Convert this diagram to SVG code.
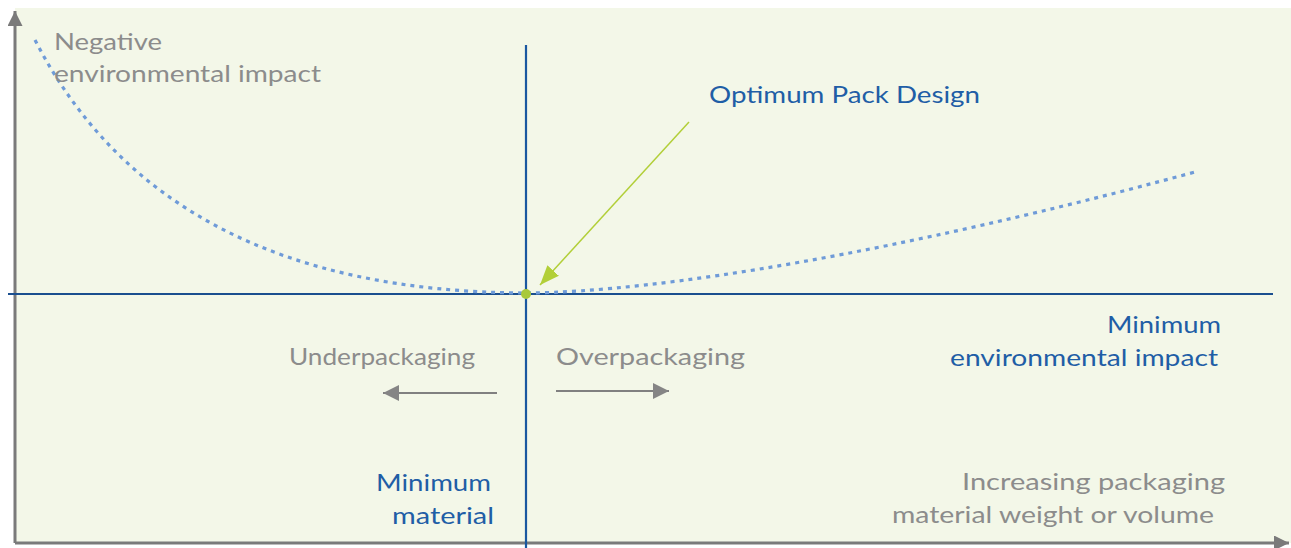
<svg xmlns="http://www.w3.org/2000/svg" width="1291" height="548" viewBox="0 0 1291 548">
<defs>
<style>
.t{font-family:"Lato","Liberation Sans",sans-serif;font-size:23px;font-weight:400}
.g{fill:#8c8c8c}
.b{fill:#1f5ea6}
.ax{stroke:#7a7a7a;stroke-width:3;fill:none}
.dir{stroke:#808080;stroke-width:2;fill:none}
</style>
<marker id="ah" viewBox="0 0 10 10" refX="10" refY="5" markerWidth="5" markerHeight="5" markerUnits="strokeWidth" orient="auto">
<path d="M0,0 L10,5 L0,10 z" fill="#7a7a7a"/>
</marker>
<marker id="ah2" viewBox="0 0 10 10" refX="10" refY="5" markerWidth="10" markerHeight="8" markerUnits="strokeWidth" orient="auto">
<path d="M0,0 L10,5 L0,10 z" fill="#858585"/>
</marker>
<marker id="ahg" viewBox="0 0 10 10" refX="10" refY="5" markerWidth="13" markerHeight="13" markerUnits="strokeWidth" orient="auto">
<path d="M0,1 L10,5 L0,9 z" fill="#b2cf38"/>
</marker>
</defs>
<rect id="background" x="15" y="8" width="1276" height="535" fill="#f3f7e8"/>
<g id="connectors">
<line class="ax" x1="15" y1="543" x2="15" y2="11" marker-end="url(#ah)"/>
<line class="ax" x1="15" y1="543" x2="1289" y2="543" marker-end="url(#ah)"/>
<line x1="8" y1="294" x2="1273" y2="294" stroke="#1a4f8f" stroke-width="2.2"/>
<line x1="526" y1="45" x2="526" y2="548" stroke="#1a58a0" stroke-width="2.2"/>
<path d="M35,40 C120,205 280,292 526,293 C660,292 900,252 1195,172" fill="none" stroke="#6f9bd8" stroke-width="3.2" stroke-dasharray="4,5"/>
<line class="dir" x1="497" y1="393" x2="383" y2="393" marker-end="url(#ah2)"/>
<line class="dir" x1="556" y1="391" x2="669" y2="391" marker-end="url(#ah2)"/>
<line x1="689" y1="122" x2="540" y2="285" stroke="#b2cf38" stroke-width="1.5" marker-end="url(#ahg)"/>
<circle cx="526" cy="294" r="5" fill="#a9c93a"/>
</g>
<g id="label-negative">
<text class="t g" x="54" y="50" textLength="108" lengthAdjust="spacingAndGlyphs">Negative</text>
<text class="t g" x="54" y="82" textLength="267" lengthAdjust="spacingAndGlyphs">environmental impact</text>
</g>
<g id="label-optimum">
<text class="t b" x="709" y="103" textLength="271" lengthAdjust="spacingAndGlyphs">Optimum Pack Design</text>
</g>
<g id="label-min-impact">
<text class="t b" x="1107" y="333" textLength="114" lengthAdjust="spacingAndGlyphs">Minimum</text>
<text class="t b" x="950" y="366" textLength="268" lengthAdjust="spacingAndGlyphs">environmental impact</text>
</g>
<g id="label-under">
<text class="t g" x="289" y="365" textLength="186" lengthAdjust="spacingAndGlyphs">Underpackaging</text>
</g>
<g id="label-over">
<text class="t g" x="556" y="365" textLength="189" lengthAdjust="spacingAndGlyphs">Overpackaging</text>
</g>
<g id="label-min-material">
<text class="t b" x="376" y="491" textLength="115" lengthAdjust="spacingAndGlyphs">Minimum</text>
<text class="t b" x="392" y="524" textLength="102" lengthAdjust="spacingAndGlyphs">material</text>
</g>
<g id="label-increasing">
<text class="t g" x="962" y="490" textLength="263" lengthAdjust="spacingAndGlyphs">Increasing packaging</text>
<text class="t g" x="892" y="523" textLength="322" lengthAdjust="spacingAndGlyphs">material weight or volume</text>
</g>
</svg>
